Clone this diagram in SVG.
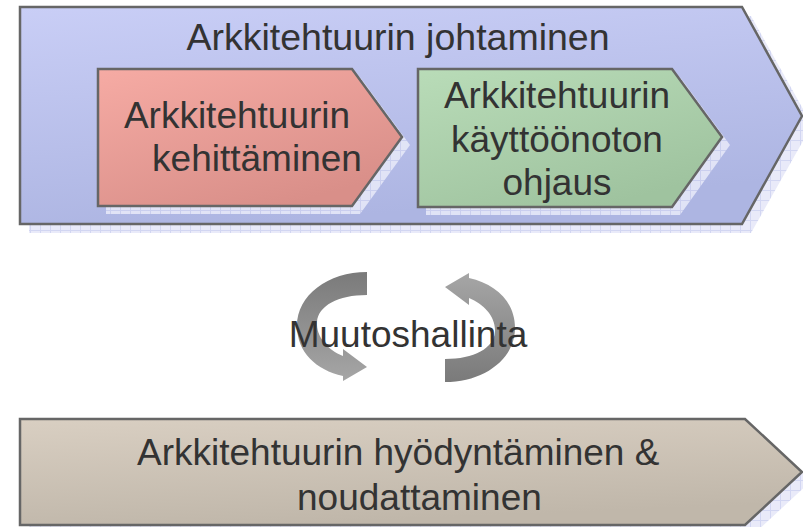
<svg xmlns="http://www.w3.org/2000/svg" width="803" height="527" viewBox="0 0 803 527">
<defs>
<linearGradient id="gBlue" x1="0" y1="0" x2="0.3" y2="1">
<stop offset="0" stop-color="#c9cef6"/><stop offset="1" stop-color="#adb5e2"/>
</linearGradient>
<linearGradient id="gPink" x1="0" y1="0" x2="0.6" y2="1">
<stop offset="0" stop-color="#f6aba4"/><stop offset="1" stop-color="#d98f89"/>
</linearGradient>
<linearGradient id="gGreen" x1="0" y1="0" x2="0.6" y2="1">
<stop offset="0" stop-color="#b9dcb8"/><stop offset="1" stop-color="#9fc39f"/>
</linearGradient>
<linearGradient id="gTan" x1="0" y1="0" x2="0.3" y2="1">
<stop offset="0" stop-color="#d9cfc2"/><stop offset="1" stop-color="#c0b7aa"/>
</linearGradient>
<linearGradient id="gArrow" x1="0" y1="0" x2="0" y2="1">
<stop offset="0" stop-color="#7a7a7a"/><stop offset="1" stop-color="#a6a6a6"/>
</linearGradient>
<pattern id="hatch" width="10" height="10" patternUnits="userSpaceOnUse">
<rect width="10" height="10" fill="#e6e8f8"/>
<path d="M0 0.5H10M0.5 0V10" stroke="#cdd1f0" stroke-width="1"/>
</pattern>
<style>
.box{stroke:#666;stroke-width:2.5;stroke-linejoin:miter}
.shadow{fill:url(#hatch);opacity:0.9}
.t{font-family:"Liberation Sans",Arial,sans-serif;font-size:37px;fill:#333}
.c{text-anchor:middle}
.arrow{fill:url(#gArrow)}
</style>
</defs>
<g id="johtaminen">
<path class="shadow" d="M29 16 L751 16 L812 125 L751 233 L29 233 Z"/>
<path class="box" fill="url(#gBlue)" d="M20 7 L742 7 L802 116 L742 224 L20 224 Z"/>
<text class="t c" x="398" y="50" style="font-size:37.5px">Arkkitehtuurin johtaminen</text>
</g>
<g id="kehittaminen">
<path class="shadow" opacity="0.3" d="M106 77 L360 77 L410 145 L360 214 L106 214 Z"/>
<path class="box" fill="url(#gPink)" d="M98 69 L352 69 L402 137 L352 206 L98 206 Z"/>
<text class="t c" x="237" y="128">Arkkitehtuurin</text>
<text class="t c" x="257" y="171">kehittäminen</text>
</g>
<g id="kayttoonotto">
<path class="shadow" opacity="0.3" d="M426 77 L680 77 L730 145 L680 215 L426 215 Z"/>
<path class="box" fill="url(#gGreen)" d="M418 69 L672 69 L722 137 L672 207 L418 207 Z"/>
<text class="t c" x="557" y="108">Arkkitehtuurin</text>
<text class="t c" x="557" y="152">käyttöönoton</text>
<text class="t c" x="557" y="195">ohjaus</text>
</g>
<g id="muutoshallinta">
<path class="arrow" d="M367 272 L367 295 C338 295 318 306 317 322 C316 337 328 350 343 356 L343 349 L367 367 L343 381 L343 376 C316 370 297 352 297 326 C297 295 328 272 367 272 Z"/>
<path class="arrow" transform="rotate(180 406 327)" d="M367 272 L367 295 C338 295 318 306 317 322 C316 337 328 350 343 356 L343 349 L367 367 L343 381 L343 376 C316 370 297 352 297 326 C297 295 328 272 367 272 Z"/>
<text class="t c" x="408" y="347">Muutoshallinta</text>
</g>
<g id="hyodyntaminen">
<path class="shadow" d="M29 428 L754 428 L811 481 L754 534 L29 534 Z"/>
<path class="box" fill="url(#gTan)" d="M20 419 L745 419 L802 472 L745 525 L20 525 Z"/>
<text class="t" x="137" y="465">Arkkitehtuurin hyödyntäminen &amp;</text>
<text class="t" x="297" y="510">noudattaminen</text>
</g>
<g id="connectors"/>
</svg>
